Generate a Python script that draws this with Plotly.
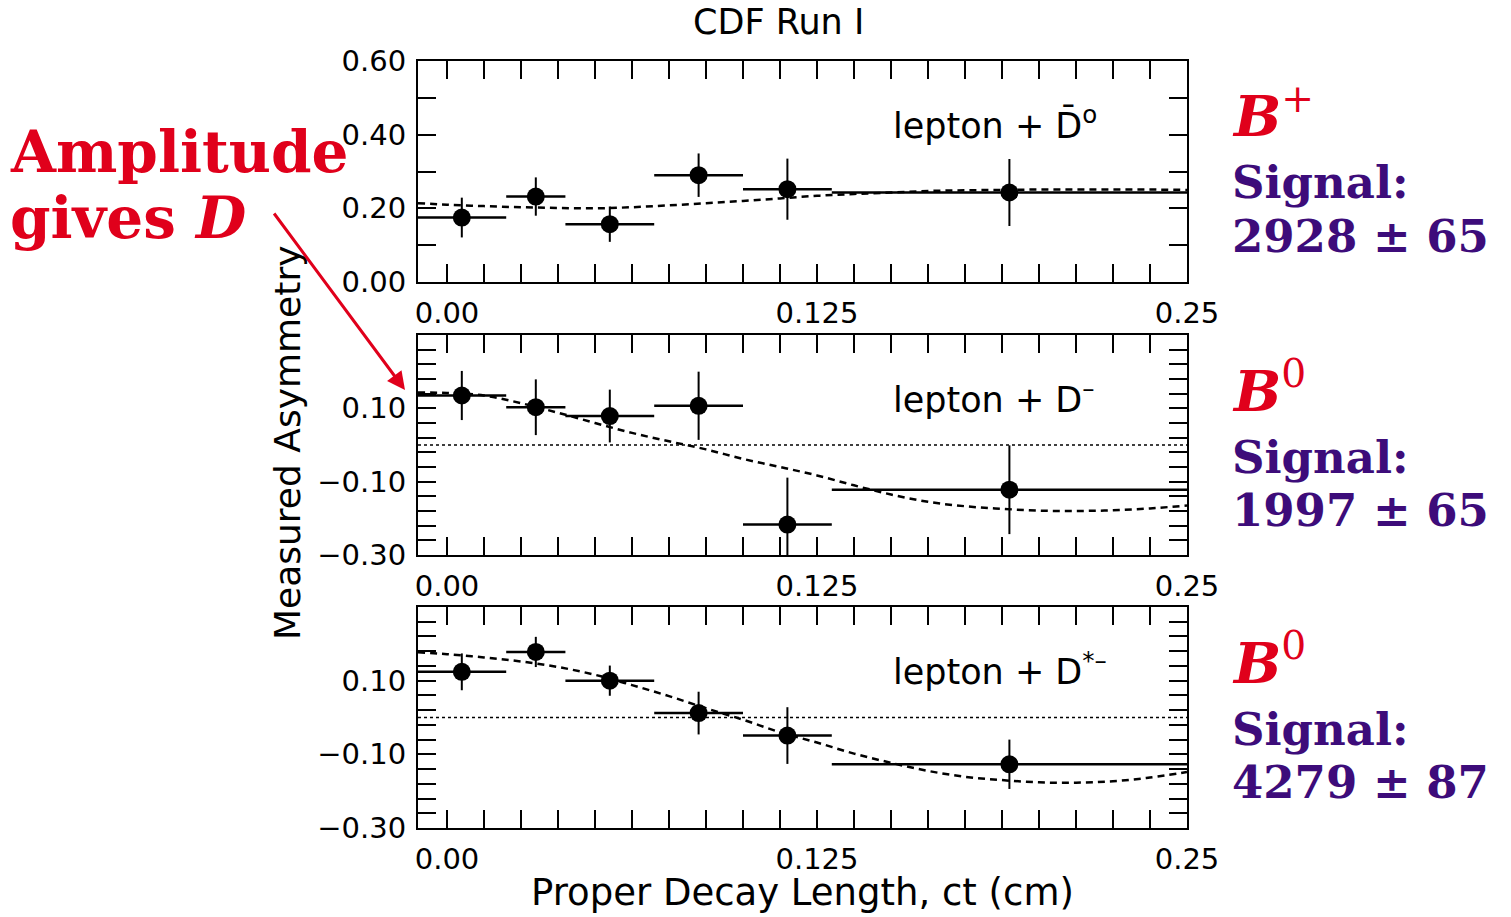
import plotly.graph_objects as go

# ---- measured asymmetry vs proper decay length (CDF Run I) ----
ct = [0.005, 0.030, 0.055, 0.085, 0.115, 0.190]
bin_lo = [-0.0098, 0.020, 0.040, 0.070, 0.100, 0.130]
bin_hi = [0.020, 0.040, 0.070, 0.100, 0.130, 0.250]

asym_dbar0 = [0.175, 0.232, 0.157, 0.290, 0.252, 0.243]
err_dbar0 = [0.054, 0.052, 0.048, 0.059, 0.083, 0.091]

asym_dminus = [0.135, 0.103, 0.079, 0.107, -0.217, -0.122]
err_dminus = [0.067, 0.076, 0.072, 0.093, 0.128, 0.121]

asym_dstar = [0.124, 0.178, 0.100, 0.012, -0.049, -0.127]
err_dstar = [0.050, 0.041, 0.041, 0.058, 0.077, 0.067]

# fitted curves sampled along ct
fit_ct = [-0.0098, 0.0, 0.0125, 0.025, 0.0375, 0.05, 0.0625, 0.075, 0.0875, 0.10,
          0.1125, 0.125, 0.1375, 0.15, 0.1625, 0.175, 0.1875, 0.20, 0.2125,
          0.225, 0.2375, 0.25]
fit_dbar0 = [0.214, 0.210, 0.206, 0.203, 0.201, 0.200, 0.203, 0.208, 0.214, 0.220,
             0.227, 0.234, 0.239, 0.243, 0.247, 0.249, 0.250, 0.251, 0.251,
             0.251, 0.251, 0.250]
fit_dminus = [0.143, 0.142, 0.135, 0.114, 0.088, 0.060, 0.033, 0.010, -0.012, -0.038,
              -0.060, -0.083, -0.110, -0.135, -0.155, -0.167, -0.174, -0.179, -0.180,
              -0.178, -0.173, -0.165]
fit_dstar = [0.177, 0.172, 0.163, 0.152, 0.137, 0.116, 0.088, 0.058, 0.025, -0.006,
             -0.040, -0.068, -0.098, -0.123, -0.145, -0.161, -0.170, -0.176, -0.177,
             -0.173, -0.163, -0.148]

channel_labels = ["lepton + D\u0304<sup>o</sup>", "lepton + D<sup>\u2013</sup>",
                  "lepton + D<sup>*\u2013</sup>"]
meson_charge = ["+", "0", "0"]
signal_yields = ["2928 \u00b1 65", "1997 \u00b1 65", "4279 \u00b1 87"]

x_tickvals = [i * 0.0125 for i in range(21)]
x_ticktext = ["0.00" if i == 0 else "0.125" if i == 10 else "0.25" if i == 20 else ""
              for i in range(21)]

top_tickvals = [0.0, 0.1, 0.2, 0.3, 0.4, 0.5, 0.6]
top_ticktext = ["0.00", "", "0.20", "", "0.40", "", "0.60"]
low_tickvals = [-0.30, -0.26, -0.22, -0.18, -0.14, -0.10, -0.06, -0.02, 0.02, 0.06,
                0.10, 0.14, 0.18, 0.22, 0.26, 0.30]
low_ticktext = ["\u22120.30", "", "", "", "", "\u22120.10", "", "", "", "",
                "0.10", "", "", "", "", ""]

RED = "#E0001B"
PURPLE = "#3D0C7A"
W, H = 1511, 917

panels = [
    dict(y=asym_dbar0, e=err_dbar0, fit=fit_dbar0, rng=[0.0, 0.6],
         tv=top_tickvals, tt=top_ticktext, top=61, bot=282, zero=False),
    dict(y=asym_dminus, e=err_dminus, fit=fit_dminus, rng=[-0.3, 0.3],
         tv=low_tickvals, tt=low_ticktext, top=335, bot=555, zero=True),
    dict(y=asym_dstar, e=err_dstar, fit=fit_dstar, rng=[-0.3, 0.3],
         tv=low_tickvals, tt=low_ticktext, top=607, bot=828, zero=True),
]

fig = go.Figure()
layout = dict(
    width=W, height=H, margin=dict(l=0, r=0, t=0, b=0, autoexpand=False),
    paper_bgcolor="white", plot_bgcolor="white", showlegend=False,
    font=dict(family="DejaVu Sans", color="black"),
)
shapes = []
annotations = []
x_left, x_right = 418, 1187
x_range = [-0.0098, 0.2500]

for i, p in enumerate(panels):
    n = "" if i == 0 else str(i + 1)
    xa, ya = "x" + n, "y" + n
    err_plus = [hi - c for hi, c in zip(bin_hi, ct)]
    err_minus = [c - lo for lo, c in zip(bin_lo, ct)]
    fig.add_trace(go.Scatter(
        x=fit_ct, y=p["fit"], mode="lines", xaxis=xa, yaxis=ya,
        line=dict(color="black", width=2.5, dash="7px,5px", shape="spline"),
        hoverinfo="skip"))
    fig.add_trace(go.Scatter(
        x=ct, y=p["y"], mode="markers", xaxis=xa, yaxis=ya,
        marker=dict(color="black", size=18),
        error_x=dict(type="data", symmetric=False, array=err_plus,
                     arrayminus=err_minus, color="black", thickness=2.5, width=0),
        error_y=dict(type="data", array=p["e"], color="black", thickness=2, width=0),
        cliponaxis=True))
    dom_y = [1 - p["bot"] / H, 1 - p["top"] / H]
    axis_common = dict(showline=True, linecolor="black", linewidth=2, mirror="ticks",
                       ticks="inside", tickcolor="black", tickwidth=2,
                       showgrid=False, zeroline=False, automargin=False,
                       tickfont=dict(family="DejaVu Sans", size=29, color="black"))
    layout["xaxis" + n] = dict(
        axis_common, domain=[x_left / W, x_right / W], range=x_range,
        anchor=ya, tickmode="array", tickvals=x_tickvals, ticktext=x_ticktext,
        ticklen=18, ticklabelstandoff=4)
    layout["yaxis" + n] = dict(
        axis_common, domain=dom_y, range=p["rng"], anchor=xa,
        tickmode="array", tickvals=p["tv"], ticktext=p["tt"],
        ticklen=18, ticklabelstandoff=4)
    if p["zero"]:
        shapes.append(dict(type="line", xref=xa + " domain", yref=ya,
                           x0=0, x1=1, y0=0, y1=0,
                           line=dict(color="black", width=1.5, dash="dot")))
    # channel label inside panel
    annotations.append(dict(
        x=891 / W, y=1 - (p["top"] + 62) / H, xref="paper", yref="paper",
        xanchor="left", yanchor="middle", showarrow=False,
        text=channel_labels[i], font=dict(family="DejaVu Sans", size=35, color="black")))
    # meson and signal yield on the right
    annotations.append(dict(
        x=1230 / W, y=1 - (p["top"] + 52) / H, xref="paper", yref="paper",
        xanchor="left", yanchor="middle", showarrow=False,
        text="<b><i>B</i></b><sup>" + meson_charge[i] + "</sup>",
        font=dict(family="DejaVu Serif", size=56, color=RED)))
    annotations.append(dict(
        x=1230 / W, y=1 - (p["top"] + 122) / H, xref="paper", yref="paper",
        xanchor="left", yanchor="middle", showarrow=False,
        text="<b>Signal:</b>", font=dict(family="DejaVu Serif", size=45, color=PURPLE)))
    annotations.append(dict(
        x=1230 / W, y=1 - (p["top"] + 175) / H, xref="paper", yref="paper",
        xanchor="left", yanchor="middle", showarrow=False,
        text="<b>" + signal_yields[i] + "</b>",
        font=dict(family="DejaVu Serif", size=45, color=PURPLE)))

annotations += [
    dict(x=778 / W, y=1 - 22 / H, xref="paper", yref="paper", showarrow=False,
         xanchor="center", yanchor="middle", text="CDF Run I",
         font=dict(family="DejaVu Sans", size=35, color="black")),
    dict(x=802 / W, y=1 - 892 / H, xref="paper", yref="paper", showarrow=False,
         xanchor="center", yanchor="middle", text="Proper Decay Length, ct (cm)",
         font=dict(family="DejaVu Sans", size=37, color="black")),
    dict(x=287 / W, y=1 - 443 / H, xref="paper", yref="paper", showarrow=False,
         xanchor="center", yanchor="middle", textangle=-90, text="Measured Asymmetry",
         font=dict(family="DejaVu Sans", size=36, color="black")),
    dict(x=8 / W, y=1 - 152 / H, xref="paper", yref="paper", showarrow=False,
         xanchor="left", yanchor="middle", text="<b>Amplitude</b>",
         font=dict(family="DejaVu Serif", size=58, color=RED)),
    dict(x=8 / W, y=1 - 218 / H, xref="paper", yref="paper", showarrow=False,
         xanchor="left", yanchor="middle", text="<b>gives <i>D</i></b>",
         font=dict(family="DejaVu Serif", size=58, color=RED)),
    dict(x=405 / W, y=1 - 390 / H, xref="paper", yref="paper", text="",
         showarrow=True, axref="pixel", ayref="pixel", ax=-132, ay=-178,
         arrowhead=2, arrowsize=1.2, arrowwidth=3, arrowcolor=RED),
]

layout["shapes"] = shapes
layout["annotations"] = annotations
fig.update_layout(**layout)
fig.write_html("out.html")
